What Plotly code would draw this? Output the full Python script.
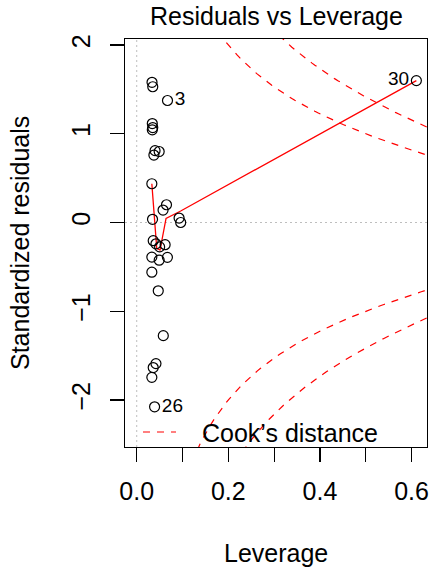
import numpy as np
import plotly.graph_objects as go

# ---- data ----
leverage = [0.0334, 0.0350, 0.0672, 0.0340, 0.0350, 0.0340, 0.0400, 0.0490, 0.0375, 0.0330,
            0.0650, 0.0575, 0.0345, 0.0925, 0.0960, 0.0360, 0.0420, 0.0620, 0.0500, 0.0330,
            0.0490, 0.0670, 0.0330, 0.0470, 0.0580, 0.0390, 0.0420, 0.0360, 0.0330, 0.6106]
std_resid = [1.580, 1.530, 1.375, 1.115, 1.070, 1.045, 0.810, 0.800, 0.760, 0.437,
             0.200, 0.140, 0.036, 0.050, 0.000, -0.205, -0.240, -0.250, -0.275, -0.390,
             -0.425, -0.393, -0.560, -0.770, -1.275, -2.077, -1.590, -1.635, -1.745, 1.599]
label_ids = [3, 26, 30]
label_pos = ["middle right", "middle right", "middle left"]

smooth_lev = [0.0330, 0.0437, 0.0509, 0.0640, 0.0960, 0.6106]
smooth_res = [0.437, -0.290, -0.310, 0.047, 0.130, 1.599]

cook_levels = [0.5, 1.0]
n_params = 2

x_ticks = [0.0, 0.1, 0.2, 0.3, 0.4, 0.5, 0.6]
x_ticklabels = ["0.0", "", "0.2", "", "0.4", "", "0.6"]
y_ticks = [-2, -1, 0, 1, 2]
y_ticklabels = ["\u22122", "\u22121", "0", "1", "2"]

x_range = [-0.0256, 0.6338]
y_range = [-2.530, 2.068]

FONT = "Liberation Sans, Arial, Helvetica, sans-serif"
FS = 25

PL, PT, PW, PH = 125, 39, 302, 408   # plot area in page pixels
W, H = 431, 570

def py(page_y):  # page pixel y -> paper y
    return (PT + PH - page_y) / PH

def px(page_x):  # page pixel x -> paper x
    return (page_x - PL) / PW

fig = go.Figure()

# Cook's distance contours
hh = np.linspace(max(leverage) / 100, x_range[1], 101)
for lev in cook_levels:
    cl = np.sqrt(lev * n_params * (1 - hh) / hh)
    for sgn in (1, -1):
        fig.add_trace(go.Scatter(x=hh, y=sgn * cl, mode="lines",
                                 line=dict(color="#FF0000", width=1.2, dash="7px,7px"),
                                 hoverinfo="skip", showlegend=False))

# smoother
fig.add_trace(go.Scatter(x=smooth_lev, y=smooth_res, mode="lines",
                         line=dict(color="#FF0000", width=1.3), showlegend=False))

# points with labels of the extreme ones
texts = [str(i + 1) if (i + 1) in label_ids else "" for i in range(len(leverage))]
positions = ["middle right"] * len(leverage)
for i, pos in zip(label_ids, label_pos):
    positions[i - 1] = pos
fig.add_trace(go.Scatter(x=leverage, y=std_resid, mode="markers+text",
                         text=texts, textposition=positions,
                         textfont=dict(family=FONT, size=19, color="black"),
                         marker=dict(symbol="circle-open", size=10,
                                     line=dict(color="black", width=1.2), color="black"),
                         showlegend=False))

# reference lines (dotted gray)
fig.add_shape(type="line", xref="x", yref="paper", x0=0, x1=0, y0=0, y1=1,
              line=dict(color="#BEBEBE", width=1, dash="2px,3px"), layer="below")
fig.add_shape(type="line", xref="paper", yref="y", x0=0, x1=1, y0=0, y1=0,
              line=dict(color="#BEBEBE", width=1, dash="2px,3px"), layer="below")

# legend (bottom-left)
fig.add_shape(type="line", xref="paper", yref="paper",
              x0=px(143), x1=px(176), y0=py(432), y1=py(432),
              line=dict(color="#FF0000", width=1.2, dash="7px,7px"))
fig.add_annotation(xref="paper", yref="paper", x=px(200), y=py(433),
                   xanchor="left", yanchor="middle", showarrow=False,
                   text="Cook\u2019s distance", font=dict(family=FONT, size=FS, color="black"))

# titles
fig.add_annotation(xref="paper", yref="paper", x=0.5, y=py(16),
                   xanchor="center", yanchor="middle", showarrow=False,
                   text="Residuals vs Leverage", font=dict(family=FONT, size=FS, color="black"))
fig.add_annotation(xref="paper", yref="paper", x=0.5, y=py(553),
                   xanchor="center", yanchor="middle", showarrow=False,
                   text="Leverage", font=dict(family=FONT, size=FS, color="black"))
fig.add_annotation(xref="paper", yref="paper", x=px(20), y=0.5,
                   xanchor="center", yanchor="middle", showarrow=False, textangle=-90,
                   text="Standardized residuals", font=dict(family=FONT, size=FS, color="black"))

axis_common = dict(showgrid=False, zeroline=False, showline=True, linecolor="black",
                   linewidth=1.2, mirror=True, ticks="outside", ticklen=14, tickwidth=1.2,
                   tickcolor="black", automargin=False,
                   tickfont=dict(family=FONT, size=FS, color="black"))

fig.update_xaxes(range=x_range, tickvals=x_ticks, ticktext=x_ticklabels,
                 ticklabelstandoff=8, **axis_common)
fig.update_yaxes(range=y_range, tickvals=y_ticks, ticktext=y_ticklabels, tickangle=-90,
                 ticklabelstandoff=10, **axis_common)

fig.update_layout(width=W, height=H,
                  margin=dict(l=PL, r=W - PL - PW, t=PT, b=H - PT - PH),
                  plot_bgcolor="white", paper_bgcolor="white",
                  font=dict(family=FONT, size=FS, color="black"), showlegend=False)

fig.write_html("out.html", config={"displayModeBar": False, "staticPlot": True},
               post_script="document.body.style.margin='0';")
